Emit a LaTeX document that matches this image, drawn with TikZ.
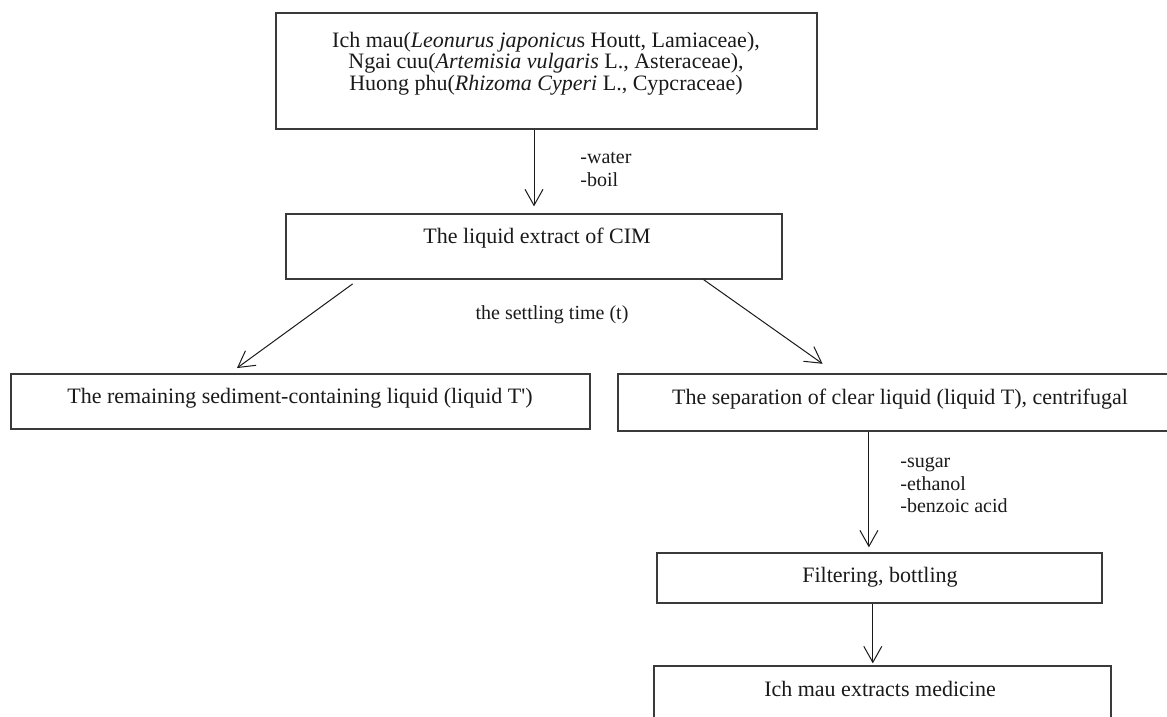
\documentclass[tikz,border=0pt]{standalone}
\usepackage{fontspec}
\setmainfont{Liberation Serif}
\usetikzlibrary{arrows.meta,calc}
\definecolor{BoxLine}{HTML}{3A3A3A}
\definecolor{Ink}{HTML}{1A1A1A}
\tikzset{
  flowbox/.style={draw=BoxLine, line width=0.65pt, inner sep=0pt},
  flowtext/.style={font=\fontsize{11}{10.75}\selectfont, text=Ink, align=center, inner sep=0pt},
  sidenote/.style={font=\fontsize{10}{11.25}\selectfont, text=Ink, align=left, inner sep=0pt},
  flowarrow/.style={-{Straight Barb[length=8pt, width=9pt]}, line width=0.5pt, draw=Ink},
}

\begin{document}
\begin{tikzpicture}[x=0.5pt, y=-0.5pt]
    \clip (0,0) rectangle (1167,717);
    \fill[white] (0,0) rectangle (1167,717);
    % boxes
    \node[flowbox, minimum width=270.5pt, minimum height=58pt] (herbs) at (546.5, 71) {};
    \node[flowtext] (herbstext) at (546, 63.5) {Ich mau(\textit{Leonurus japonicu}s Houtt, Lamiaceae),\\ Ngai cuu(\textit{Artemisia vulgaris} L., Asteraceae),\\ Huong phu(\textit{Rhizoma Cyperi} L., Cypcraceae)};
    \node[flowbox, minimum width=248pt, minimum height=32.5pt] (extract) at (534, 246.5) {};
    \node[flowtext] (extracttext) at (537, 238) {The liquid extract of CIM};
    \node[flowbox, minimum width=289.5pt, minimum height=27.5pt] (sediment) at (300.5, 401.5) {};
    \node[flowtext] (sedimenttext) at (300, 398) {The remaining sediment-containing liquid (liquid T\textquotesingle)};
    \node[flowbox, minimum width=282pt, minimum height=28.5pt] (separation) at (900, 402.5) {};
    \node[flowtext] (separationtext) at (900, 399) {The separation of clear liquid (liquid T), centrifugal};
    \node[flowbox, minimum width=222.5pt, minimum height=25pt] (filter) at (879.5, 578) {};
    \node[flowtext] (filtertext) at (880, 577) {Filtering, bottling};
    \node[flowbox, minimum width=228.5pt, minimum height=32pt] (product) at (882.5, 698) {};
    \node[flowtext] (producttext) at (880, 689) {Ich mau extracts medicine};
    % side notes
    \node[sidenote, anchor=west] (boilnote) at (580, 169.5) {-water\\ -boil};
    \node[sidenote] (settlenote) at (552, 315) {the settling time (t)};
    \node[sidenote, anchor=west] (addnote) at (900, 485) {-sugar\\ -ethanol\\ -benzoic acid};
    % arrows
    \draw[flowarrow, shorten >=3.5pt] (extract |- herbs.south) -- (extract.north);
    \draw[flowarrow, shorten <=3.6pt, shorten >=4.5pt] ($(extract.south west)!0.147!(extract.south east)$) -- ($(sediment.north west)!0.378!(sediment.north east)$);
    \draw[flowarrow, shorten >=8.3pt] ($(extract.south west)!0.841!(extract.south east)$) -- ($(separation.north west)!0.387!(separation.north east)$);
    \coordinate (septap) at ($(separation.south west)!0.445!(separation.south east)$);
    \draw[flowarrow, shorten >=2.5pt] (septap) -- (septap |- filter.north);
    \coordinate (filtertap) at ($(filter.south west)!0.485!(filter.south east)$);
    \draw[flowarrow, shorten >=1pt] (filtertap) -- (filtertap |- product.north);
\end{tikzpicture}
\end{document}
